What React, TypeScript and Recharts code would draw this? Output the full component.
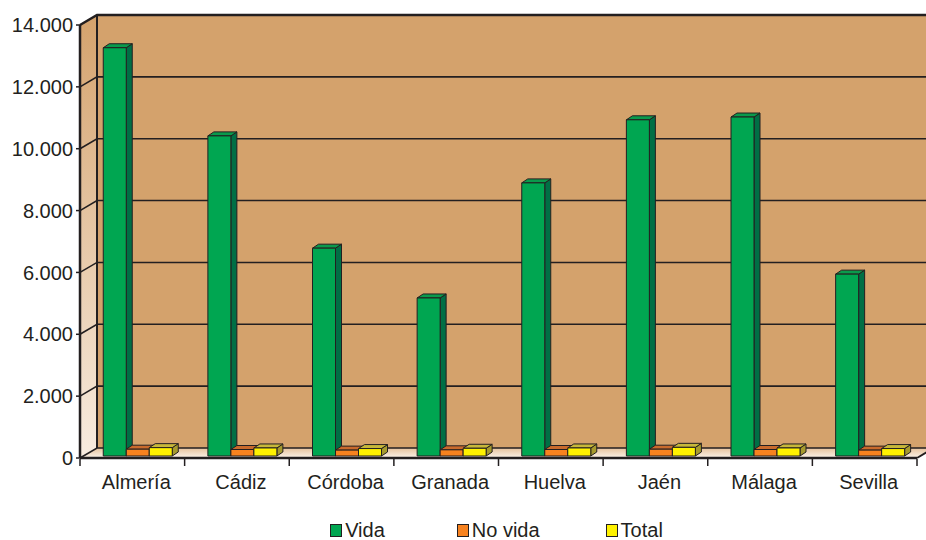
import { BarChart, Bar, XAxis, YAxis, CartesianGrid, Legend, ReferenceArea } from 'recharts';

const provinces = ['Almería', 'Cádiz', 'Córdoba', 'Granada', 'Huelva', 'Jaén', 'Málaga', 'Sevilla'];
const vida = [13200, 10350, 6720, 5110, 8830, 10870, 10960, 5880];
const noVida = [220, 210, 190, 200, 210, 220, 210, 190];
const total = [270, 260, 240, 250, 260, 280, 260, 240];
const yTicks = [0, 2000, 4000, 6000, 8000, 10000, 12000, 14000];

const data = provinces.map((name, i) => ({ name, vida: vida[i], noVida: noVida[i], total: total[i] }));

const W = 926;
const H = 540;
const X_H = 40;
const LEG_H = 24;
const M = { top: 25, right: 9, left: 0, bottom: 82 - X_H - LEG_H };
const Y_W = 80;
const BAND = (W - Y_W - M.right - M.left) / provinces.length;

// 3d offsets
const WALL_DX = 17;
const WALL_DY = -10;
const BAR_DX = 6;
const BAR_DY = -2;
const DEP_X = 6;
const DEP_Y = -4;

const INK = '#231f20';
const FONT = '"Liberation Sans", Arial, Helvetica, sans-serif';

const fmt = (n: number) => String(n).replace(/\B(?=(\d{3})+(?!\d))/g, '.');

const box = (front: string, top: string, side: string) => (props: any) => {
  const { x, y, width, height } = props;
  if (width == null || height == null) return <g />;
  const fx = x + BAR_DX;
  const fy = y + BAR_DY;
  const r = fx + width;
  const b = fy + height;
  return (
    <g stroke={INK} strokeWidth={1} strokeLinejoin="round">
      <polygon points={`${r},${fy} ${r + DEP_X},${fy + DEP_Y} ${r + DEP_X},${b + DEP_Y} ${r},${b}`} fill={side} />
      <polygon points={`${fx},${fy} ${fx + DEP_X},${fy + DEP_Y} ${r + DEP_X},${fy + DEP_Y} ${r},${fy}`} fill={top} />
      <rect x={fx} y={fy} width={width} height={height} fill={front} />
    </g>
  );
};

const Walls = (props: any) => {
  const { x, y, width, height } = props;
  const b = y + height;
  return (
    <g>
      <defs>
        <linearGradient id="sideGrad" x1="0" y1="0" x2="0" y2="1">
          <stop offset="0%" stopColor="#d4a26c" />
          <stop offset="100%" stopColor="#f8ece0" />
        </linearGradient>
        <linearGradient id="floorGrad" x1="0" y1="0" x2="0" y2="1">
          <stop offset="0%" stopColor="#e6c29c" />
          <stop offset="100%" stopColor="#fbf3ea" />
        </linearGradient>
      </defs>
      <rect x={x + WALL_DX} y={y + WALL_DY} width={width + 20} height={height} fill="#d4a26c" />
      <polygon
        points={`${x},${y} ${x + WALL_DX},${y + WALL_DY} ${x + WALL_DX},${b + WALL_DY} ${x},${b}`}
        fill="url(#sideGrad)"
      />
      <polygon
        points={`${x},${b} ${x + WALL_DX},${b + WALL_DY} ${x + width + WALL_DX},${b + WALL_DY} ${x + width},${b}`}
        fill="url(#floorGrad)"
      />
      <g stroke={INK} strokeWidth={2} fill="none">
        <line x1={x + WALL_DX} y1={y + WALL_DY} x2={x + WALL_DX} y2={b + WALL_DY} />
        <line x1={x + width} y1={b} x2={x + width + WALL_DX} y2={b + WALL_DY} />
      </g>
    </g>
  );
};

const gridLine = (p: any) => {
  const { x1, y1, x2, key } = p;
  return (
    <g key={key} stroke={INK} strokeWidth={y1 < M.top + 2 ? 2.5 : 1.6} fill="none">
      <polyline points={`${x1},${y1} ${x1 + WALL_DX},${y1 + WALL_DY} ${x2 + WALL_DX + 20},${y1 + WALL_DY}`} />
    </g>
  );
};

const CatTick = (props: any) => {
  const { x, y, payload, index } = props;
  const left = x - BAND / 2;
  return (
    <g>
      <line x1={left} y1={y + 1} x2={left} y2={y + 8} stroke={INK} strokeWidth={1.5} />
      {index === provinces.length - 1 && (
        <line x1={left + BAND} y1={y + 1} x2={left + BAND} y2={y + 8} stroke={INK} strokeWidth={1.5} />
      )}
      <text x={x + 4} y={y + 31} textAnchor="middle" fontSize={20} fontFamily={FONT} fill={INK}>
        {payload.value}
      </text>
    </g>
  );
};

const series = [
  { key: 'vida', name: 'Vida', front: '#00a651', top: '#0a9a4c', side: '#006f45' },
  { key: 'noVida', name: 'No vida', front: '#f7821f', top: '#c96a2c', side: '#a9561f' },
  { key: 'total', name: 'Total', front: '#fff200', top: '#c7b83a', side: '#a69a2e' },
];
const legendGaps = [0, 72, 66];

const LegendBox = () => (
  <div
    style={{
      display: 'flex',
      justifyContent: 'center',
      fontFamily: FONT,
      fontSize: 20,
      lineHeight: `${LEG_H}px`,
      height: LEG_H,
      color: INK,
      paddingRight: 4,
    }}
  >
    {series.map((s, i) => (
      <div key={s.key} style={{ display: 'flex', alignItems: 'center', marginLeft: legendGaps[i] }}>
        <span
          style={{
            display: 'inline-block',
            width: 10,
            height: 11,
            background: s.front,
            border: `1.5px solid ${INK}`,
            marginRight: 3,
          }}
        />
        <span>{s.name}</span>
      </div>
    ))}
  </div>
);

export default function App() {
  return (
    <div style={{ position: 'absolute', left: 0, top: 0, width: W, height: H, background: '#fff' }}>
      <BarChart width={W} height={H} data={data} margin={M} barCategoryGap="16.5%" barGap={0}>
        <ReferenceArea y1={0} y2={14000} ifOverflow="visible" shape={Walls} zIndex={-200} />
        <CartesianGrid vertical={false} horizontal={gridLine} />
        <XAxis
          dataKey="name"
          tickLine={false}
          tickSize={0}
          tickMargin={0}
          axisLine={{ stroke: INK, strokeWidth: 2.5 }}
          tick={CatTick}
          interval={0}
          height={X_H}
        />
        <YAxis
          width={Y_W}
          domain={[0, 14000]}
          ticks={yTicks}
          interval={0}
          tickFormatter={fmt}
          tickSize={4}
          tickMargin={3}
          axisLine={{ stroke: INK, strokeWidth: 2.5 }}
          tickLine={{ stroke: INK, strokeWidth: 1.5 }}
          tick={{ fill: INK, fontSize: 20, fontFamily: FONT }}
        />
        {series.map((s) => (
          <Bar
            key={s.key}
            dataKey={s.key}
            name={s.name}
            fill={s.front}
            shape={box(s.front, s.top, s.side)}
            isAnimationActive={false}
          />
        ))}
        <Legend
          content={LegendBox}
          height={LEG_H}
          wrapperStyle={{ left: Y_W, width: W - Y_W - M.right, top: 518, bottom: 'auto', height: LEG_H }}
        />
      </BarChart>
    </div>
  );
}
